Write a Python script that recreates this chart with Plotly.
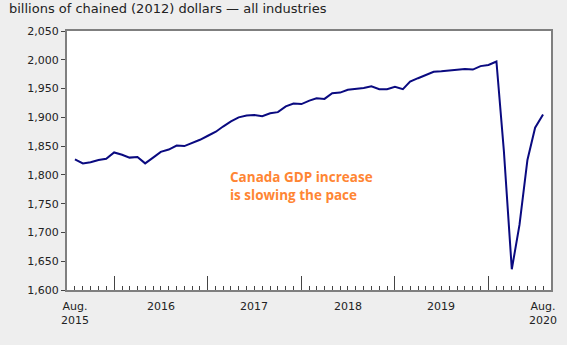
import plotly.graph_objects as go
import pandas as pd

months = pd.date_range("2015-08-01", "2020-08-01", freq="MS")
gdp = [1827, 1820, 1822, 1826, 1828, 1839, 1835, 1830, 1831, 1820,
       1830, 1840, 1844, 1851, 1850, 1855, 1861, 1868, 1875, 1884,
       1893, 1900, 1903, 1904, 1902, 1907, 1909, 1919, 1924, 1923,
       1929, 1933, 1932, 1942, 1943, 1948, 1949, 1951, 1954, 1949,
       1949, 1953, 1949, 1962, 1968, 1974, 1979, 1980, 1981, 1982,
       1984, 1983, 1989, 1991, 1997, 1842, 1636, 1713, 1826, 1882,
       1905]
y_ticks = [1600, 1650, 1700, 1750, 1800, 1850, 1900, 1950, 2000, 2050]
y_ticktext = ["1,600", "1,650", "1,700", "1,750", "1,800", "1,850",
              "1,900", "1,950", "2,000", "2,050"]
year_ticks = ["2016-01-01", "2017-01-01", "2018-01-01", "2019-01-01", "2020-01-01"]
x_label_pos = ["2015-08-01", "2016-07-01", "2017-07-01", "2018-07-01", "2019-07-01", "2020-08-01"]
x_label_text = ["Aug.<br>2015", "2016", "2017", "2018", "2019", "Aug.<br>2020"]
title_text = "billions of chained (2012) dollars — all industries"
note_text = "Canada GDP increase<br>is slowing the pace"

AXIS = "#7f7f7f"
FONT = "DejaVu Sans"

fig = go.Figure()
fig.add_trace(go.Scatter(x=months, y=gdp, mode="lines",
                         line=dict(color="#0a0a80", width=2),
                         hoverinfo="skip", showlegend=False))

fig.update_layout(
    width=567, height=345,
    margin=dict(l=67, r=16, t=31, b=55),
    paper_bgcolor="#eeeeee", plot_bgcolor="#ffffff",
    font=dict(family=FONT, size=11, color="#222222"),
    showlegend=False,
)
fig.update_xaxes(
    range=["2015-07-01", "2020-09-01"],
    showgrid=False, zeroline=False,
    showline=True, linecolor=AXIS, linewidth=2, mirror=True,
    tickmode="array", tickvals=year_ticks, ticks="inside", ticklen=14,
    tickcolor="#444444", tickwidth=1, showticklabels=False,
    minor=dict(ticks="inside", ticklen=4, tickcolor="#444444", tickwidth=1,
               tick0="2015-08-01", dtick="M1", showgrid=False),
)
fig.update_yaxes(
    range=[1600, 2050],
    showgrid=False, zeroline=False,
    showline=True, linecolor=AXIS, linewidth=2, mirror=True,
    tickmode="array", tickvals=y_ticks, ticktext=y_ticktext,
    ticks="outside", ticklen=4, tickcolor="#444444",
    tickfont=dict(family=FONT, size=11, color="#222222"),
)

for xv, txt in zip(x_label_pos, x_label_text):
    fig.add_annotation(x=xv, y=0, xref="x", yref="paper", yanchor="top",
                       yshift=-8, text=txt, showarrow=False,
                       font=dict(family=FONT, size=11, color="#222222"))

fig.add_annotation(x=0, y=1, xref="paper", yref="paper", xanchor="left",
                   yanchor="bottom", xshift=-60, yshift=13, text=title_text,
                   showarrow=False,
                   font=dict(family=FONT, size=13, color="#222222"))

fig.add_annotation(x="2017-03-20", y=1815, xref="x", yref="y",
                   xanchor="left", yanchor="top", align="left",
                   text=note_text, showarrow=False,
                   font=dict(family="Open Sans", size=13.5, color="#ff8533",
                             weight="bold"))

fig.write_html("out.html")
